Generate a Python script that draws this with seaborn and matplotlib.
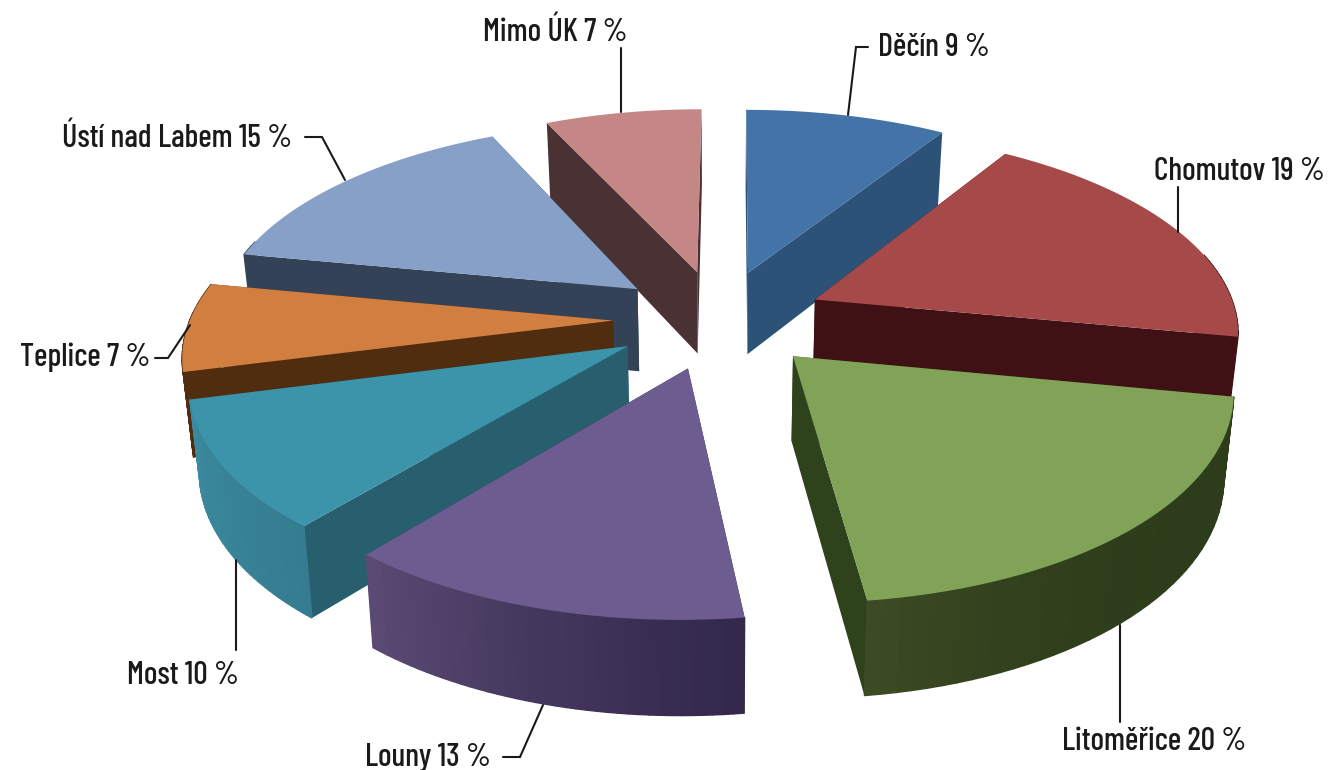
import numpy as np
import pandas as pd
import seaborn as sns
import matplotlib.pyplot as plt
from matplotlib.colors import to_rgb

# Datos del grafico
okresy = ['Děčín', 'Chomutov', 'Litoměřice', 'Louny', 'Most', 'Teplice', 'Ústí nad Labem', 'Mimo ÚK']
podily = [9, 19, 20, 13, 10, 7, 15, 7]

# Colores: cara superior, pared radial, pared exterior (inicio, fin)
barvy_top = ['#4373A7', '#A54A48', '#80A358', '#6C5C8F', '#3B94A9', '#D07F40', '#86A0C7', '#C48785']
barvy_stena = ['#2C5278', '#3F1014', '#2E421C', '#33294C', '#285F6E', '#512D10', '#344257', '#4A3133']
barvy_obluk_a = ['#2C5278', '#3F1014', '#2D3D1B', '#33294C', '#357C90', '#512D10', '#344257', '#4A3133']
barvy_obluk_b = ['#2C5278', '#3F1014', '#3C4B23', '#5A4A74', '#3B8A9F', '#512D10', '#344257', '#4A3133']
gradient_exp = [1, 1, 4, 1.2, 1, 1, 1, 1]

df = pd.DataFrame({'okres': okresy, 'podil': podily})
df['konec'] = np.radians(df['podil'].cumsum() * 3.6)
df['zacatek'] = df['konec'] - np.radians(df['podil'] * 3.6)
df['stred'] = (df['zacatek'] + df['konec']) / 2

# Perspectiva
CX, CY = 719, 319
A, B, C = 423, 199, 85
K, M = 0.145, 0.02
SHEAR = 2
EXPLODE = 0.25


def projekce(u, v, z=0.0):
    w = (1 + K * v) * (1 + M * z)
    return CX + (A * u + SHEAR * v) / w, CY + (C * z - B * v) / w


sns.set_theme(style='white')
plt.rcParams['font.family'] = ['Barlow Condensed', 'Liberation Sans', 'DejaVu Sans']

fig = plt.figure(figsize=(13.29, 7.7), dpi=100)
ax = fig.add_axes([0, 0, 1, 1])
ax.set_xlim(0, 1329)
ax.set_ylim(770, 0)
ax.axis('off')

# De atras hacia adelante
poradi = df.assign(hloubka=np.cos(df['stred'])).sort_values('hloubka', ascending=False).index

for i in poradi:
    a0, a1, mid = df.loc[i, ['zacatek', 'konec', 'stred']]
    u0, v0 = EXPLODE * np.sin(mid), EXPLODE * np.cos(mid)
    t = np.linspace(a0, a1, 40)
    u = u0 + np.sin(t)
    v = v0 + np.cos(t)

    # paredes radiales
    for ang in (a0, a1):
        ue, ve = u0 + np.sin(ang), v0 + np.cos(ang)
        p = [projekce(u0, v0), projekce(ue, ve), projekce(ue, ve, 1), projekce(u0, v0, 1)]
        ax.fill(*zip(*p), color=barvy_stena[i], lw=0)

    # pared exterior con degradado, solo la parte que mira al frente
    ca, cb = np.array(to_rgb(barvy_obluk_a[i])), np.array(to_rgb(barvy_obluk_b[i]))
    for j in range(len(t) - 1):
        if np.cos(t[j]) > 0.25:
            continue
        f = (j / (len(t) - 2)) ** gradient_exp[i]
        p = [projekce(u[j], v[j]), projekce(u[j + 1], v[j + 1]),
             projekce(u[j + 1], v[j + 1], 1), projekce(u[j], v[j], 1)]
        ax.fill(*zip(*p), color=ca + (cb - ca) * f, lw=1.0)

    # cara superior
    sx, sy = projekce(np.r_[u0, u], np.r_[v0, v])
    ax.fill(sx, sy, color=barvy_top[i], lw=0)

# Rotulos y lineas guia
popisky = [
    (878, 47, [(848, 115), (856, 47), (868, 47)]),
    (1154, 171, [(1178, 232), (1178, 187)]),
    (1062, 742, [(1120, 625), (1120, 722)]),
    (365, 757, [(543, 705), (520, 757), (503, 757)]),
    (127, 675, [(236, 560), (236, 650)]),
    (20, 357, [(190, 325), (168, 358), (155, 358)]),
    (62, 138, [(345, 180), (322, 137), (305, 137)]),
    (483, 32, [(621, 112), (621, 48)]),
]
for (x, y, linka), okres, podil in zip(popisky, okresy, podily):
    ax.plot(*zip(*linka), color='#1a1a1a', lw=1.5, solid_joinstyle='miter')
    ax.text(x, y, f'{okres} {podil} %', ha='left', va='center', fontsize=23, weight=500, color='#1a1a1a')

fig.savefig('out.png', dpi=100, facecolor='white')
